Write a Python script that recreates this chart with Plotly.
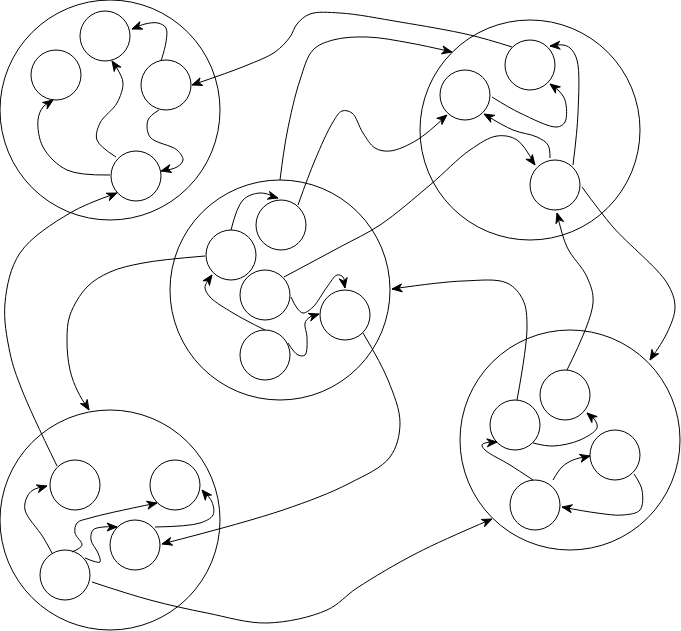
import numpy as np
import plotly.graph_objects as go

# canvas in pixels (y grows downward)
W, H = 681, 631

# ===== clusters (big circles) =====
CLUSTER_NAMES = ["A", "B", "C", "D", "E"]
CLUSTER_X = [110, 530, 280, 110, 570]
CLUSTER_Y = [110, 130, 290, 520, 440]

# ===== nodes (small circles) =====
NODE_NAMES = ["A1", "A2", "A3", "A4",
              "B1", "B2", "B3",
              "C1", "C2", "C3", "C4", "C5",
              "D1", "D2", "D3", "D4",
              "E1", "E2", "E3", "E4"]
NODE_X = [105, 56, 166, 136,
          530, 465, 555,
          231, 281, 265, 265, 345,
          75, 175, 135, 65,
          515, 565, 615, 535]
NODE_Y = [36, 75, 85, 176,
          65, 95, 185,
          255, 225, 295, 355, 315,
          485, 485, 545, 575,
          425, 395, 455, 505]

# ===== edges: source, target, routed waypoints (last point = arrow tip) =====
EDGE_FROM = ["A3", "A4", "A4", "A3", "B1", "D1", "C1", "C2", "C", "C3",
             "E1", "E2", "B3", "C1", "C4", "C4", "C3", "C5", "D4", "D4",
             "D4", "D3", "D4", "E1", "E4", "E4", "E3", "B3", "B2", "B3"]
EDGE_TO = ["A1", "A1", "A2", "A4", "A3", "A4", "D", "B2", "B", "B3",
           "C", "B3", "E", "C2", "C1", "C5", "C5", "D3", "D1", "D2",
           "D3", "D2", "E", "E2", "E1", "E3", "E4", "B1", "B1", "B2"]
EDGE_PATHS = [
    [(161, 61), (166, 42), (166, 28), (158, 23), (145, 24), (132, 29)],
    [(116, 157), (97, 140), (100, 123), (117, 103), (123, 83), (118, 70), (112, 61)],
    [(110, 175), (67, 170), (43, 147), (38, 120), (43, 107), (53, 100)],
    [(159, 110), (148, 120), (150, 137), (177, 150), (183, 160), (177, 167), (161, 171)],
    [(512, 47), (470, 35), (400, 22), (340, 13), (310, 14), (297, 24), (290, 37),
     (275, 52), (245, 66), (192, 85)],
    [(57, 466), (22, 390), (10, 353), (5, 303), (20, 253), (70, 213), (117, 193)],
    [(205, 256), (143, 263), (110, 272), (87, 287), (70, 315), (67, 340), (70, 370),
     (78, 392), (89, 410)],
    [(298, 205), (315, 160), (333, 122), (342, 111), (352, 113), (363, 133), (375, 148),
     (390, 151), (417, 140), (447, 115)],
    [(280, 180), (287, 133), (300, 80), (313, 50), (333, 40), (367, 37), (410, 43), (452, 52)],
    [(284, 277), (340, 247), (380, 225), (430, 185), (470, 150), (497, 136), (517, 140),
     (535, 165)],
    [(517, 400), (527, 327), (523, 300), (507, 283), (463, 281), (392, 289)],
    [(567, 370), (593, 303), (587, 277), (567, 247), (557, 213)],
    [(582, 187), (613, 227), (667, 283), (675, 307), (667, 333), (650, 360)],
    [(231, 230), (243, 200), (260, 193), (278, 198)],
    [(265, 330), (233, 313), (210, 297), (205, 288), (207, 282), (212, 275)],
    [(288, 343), (298, 355), (305, 355), (307, 337), (305, 323), (310, 317), (319, 314)],
    [(291, 297), (297, 308), (303, 313), (313, 307), (327, 287), (337, 275), (343, 277),
     (345, 288)],
    [(363, 333), (388, 380), (400, 423), (390, 457), (350, 483), (283, 510), (162, 544)],
    [(52, 553), (43, 537), (25, 510), (27, 497), (33, 490), (47, 486)],
    [(72, 552), (82, 545), (75, 533), (77, 523), (90, 518), (157, 503)],
    [(85, 558), (100, 562), (98, 553), (91, 540), (93, 530), (103, 527), (117, 527)],
    [(155, 527), (200, 523), (213, 515), (212, 502), (202, 490)],
    [(92, 582), (150, 600), (207, 613), (267, 623), (327, 610), (357, 588), (417, 553),
     (492, 519)],
    [(533, 443), (553, 446), (580, 440), (597, 428), (595, 420), (587, 413)],
    [(533, 480), (510, 465), (485, 450), (482, 445), (485, 443), (497, 442)],
    [(553, 480), (562, 467), (573, 460), (590, 456)],
    [(634, 474), (642, 490), (640, 510), (623, 515), (597, 513), (562, 507)],
    [(573, 165), (578, 113), (577, 60), (570, 48), (563, 45), (550, 46)],
    [(492, 97), (520, 113), (557, 127), (565, 122), (565, 100), (558, 90), (550, 84)],
    [(550, 158), (548, 145), (537, 137), (513, 130), (484, 114)],
]

CLUSTER_R = 110
NODE_R = 25
ARROW_LEN, ARROW_HALF, ARROW_NOTCH = 10, 4, 3


def arrow_head(path):
    """Notched filled arrowhead at the end of a path."""
    tip = np.array(path[-1], float)
    prev = np.array(path[-2], float)
    d = tip - prev
    d /= np.hypot(*d)
    n = np.array([-d[1], d[0]])
    base = tip - ARROW_LEN * d
    pts = [tip, base + ARROW_HALF * n, tip - (ARROW_LEN - ARROW_NOTCH) * d,
           base - ARROW_HALF * n, tip]
    return [p[0] for p in pts], [p[1] for p in pts]


fig = go.Figure()

for path in EDGE_PATHS:
    fig.add_trace(go.Scatter(
        x=[p[0] for p in path], y=[p[1] for p in path],
        mode="lines", line=dict(color="black", width=1, shape="spline", smoothing=1.0),
        hoverinfo="skip", showlegend=False))
    ax, ay = arrow_head(path)
    fig.add_trace(go.Scatter(
        x=ax, y=ay, mode="lines", fill="toself", fillcolor="black",
        line=dict(color="black", width=1), hoverinfo="skip", showlegend=False))

shapes = []
for cx, cy in zip(CLUSTER_X, CLUSTER_Y):
    shapes.append(dict(type="circle", xref="x", yref="y",
                       x0=cx - CLUSTER_R, x1=cx + CLUSTER_R,
                       y0=cy - CLUSTER_R, y1=cy + CLUSTER_R,
                       line=dict(color="black", width=1)))
for nx, ny in zip(NODE_X, NODE_Y):
    shapes.append(dict(type="circle", xref="x", yref="y",
                       x0=nx - NODE_R, x1=nx + NODE_R,
                       y0=ny - NODE_R, y1=ny + NODE_R,
                       line=dict(color="black", width=1)))

fig.update_layout(
    width=W, height=H,
    margin=dict(l=0, r=0, t=0, b=0),
    paper_bgcolor="white", plot_bgcolor="white",
    shapes=shapes,
    xaxis=dict(range=[0, W], visible=False, fixedrange=True),
    yaxis=dict(range=[H, 0], visible=False, fixedrange=True),
)

# page body has a default 8px margin; drop it so the figure sits at the corner
fig.write_html("out.html", config=dict(displayModeBar=False),
               post_script="document.body.style.margin='0';")
